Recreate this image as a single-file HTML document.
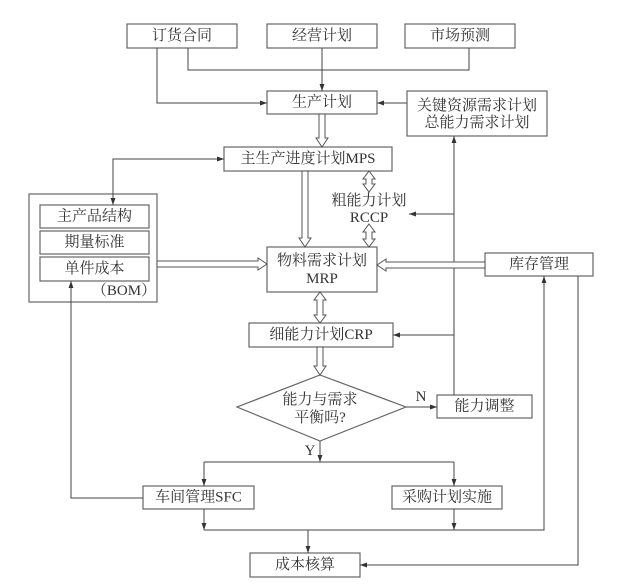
<!DOCTYPE html>
<html><head><meta charset="utf-8"><style>
html,body{margin:0;padding:0;background:#fff;}
svg{display:block;}
text{font-family:"Liberation Serif","Noto Serif CJK SC",serif;font-size:15px;fill:#333;text-anchor:middle;dominant-baseline:central;}
</style></head><body>
<svg width="630" height="585" viewBox="0 0 630 585" xmlns="http://www.w3.org/2000/svg">
<defs>
<marker id="a" viewBox="0 0 10 10" refX="10" refY="5" markerWidth="7" markerHeight="7" orient="auto-start-reverse" markerUnits="userSpaceOnUse"><path d="M0,1.5 L10,5 L0,8.5 z" fill="#333"/></marker>
</defs>
<g fill="#fff" stroke="#666" stroke-width="1.2">
<rect x="127" y="24" width="110" height="24"/>
<rect x="267" y="24" width="110" height="24"/>
<rect x="405" y="24" width="110" height="24"/>
<rect x="267" y="91" width="110" height="23"/>
<rect x="407" y="91" width="140" height="45"/>
<rect x="224" y="147" width="168" height="24"/>
<rect x="29" y="194" width="128" height="108"/>
<rect x="40" y="205" width="109" height="23"/>
<rect x="40" y="231" width="109" height="23"/>
<rect x="40" y="257" width="109" height="24"/>
<rect x="267" y="247" width="110" height="45"/>
<rect x="485" y="253" width="108" height="23"/>
<rect x="249" y="323" width="144" height="24"/>
<polygon points="320,375 406,407 320,441 237,407"/>
<rect x="437" y="395" width="95" height="23"/>
<rect x="143" y="486" width="111" height="23"/>
<rect x="392" y="486" width="110" height="23"/>
<rect x="250" y="553" width="110" height="24"/>
</g>
<g fill="none" stroke="#444" stroke-width="1">
<path d="M157,48 V103 H267" marker-end="url(#a)"/>
<path d="M188,48 V70 H469 V48"/>
<path d="M322,48 V91" marker-end="url(#a)"/>
<path d="M407,103 H377" marker-end="url(#a)"/>
<path d="M224,159 H113 V205" marker-start="url(#a)" marker-end="url(#a)"/>
<path d="M454,395 V136" marker-end="url(#a)"/>
<path d="M454,214 H409" marker-end="url(#a)"/>
<path d="M454,335 H393" marker-end="url(#a)"/>
<path d="M406,407 H437" marker-end="url(#a)"/>
<path d="M320,441 V462" marker-end="url(#a)"/>
<path d="M204,462 H454"/>
<path d="M204,462 V486" marker-end="url(#a)"/>
<path d="M454,462 V486" marker-end="url(#a)"/>
<path d="M143,498 H71 V281" marker-end="url(#a)"/>
<path d="M204,509 V530" marker-end="url(#a)"/>
<path d="M454,509 V530" marker-end="url(#a)"/>
<path d="M204,530 H544 V276" marker-end="url(#a)"/>
<path d="M308,530 V553" marker-end="url(#a)"/>
<path d="M578,276 V565 H360" marker-end="url(#a)"/>
</g>
<g fill="#fff" stroke="#555" stroke-width="1">
<!-- 生产计划 -> MPS -->
<polygon points="319,114 325,114 325,138 328,138 322,147 316,138 319,138"/>
<!-- MPS -> MRP -->
<polygon points="302,171 308,171 308,238 311,238 305,247 299,238 302,238"/>
<!-- RCCP double arrows -->
<polygon points="369,171 375,179 372,179 372,184 375,184 369,192 363,184 366,184 366,179 363,179"/>
<polygon points="369,224 375,232 372,232 372,239 375,239 369,247 363,239 366,239 366,232 363,232"/>
<!-- MRP <-> CRP -->
<polygon points="320,292 326,300 323,300 323,315 326,315 320,323 314,315 317,315 317,300 314,300"/>
<!-- CRP -> diamond -->
<polygon points="317,347 323,347 323,366 326,366 320,375 314,366 317,366"/>
<!-- BOM -> MRP -->
<polygon points="157,261 258,261 258,258 267,264 258,270 258,267 157,267"/>
<!-- 库存 -> MRP -->
<polygon points="485,262 386,262 386,259 377,265 386,271 386,268 485,268"/>
</g>
<text x="182" y="36">订货合同</text>
<text x="322" y="36">经营计划</text>
<text x="460" y="36">市场预测</text>
<text x="322" y="102.5">生产计划</text>
<text x="477" y="106">关键资源需求计划</text>
<text x="477" y="123">总能力需求计划</text>
<text x="308" y="159">主生产进度计划MPS</text>
<text x="369" y="201">粗能力计划</text>
<text x="369" y="218">RCCP</text>
<text x="94.5" y="216.5">主产品结构</text>
<text x="94.5" y="242.5">期量标准</text>
<text x="94.5" y="269">单件成本</text>
<text x="124" y="291">（BOM）</text>
<text x="322" y="261">物料需求计划</text>
<text x="322" y="279">MRP</text>
<text x="539" y="264.5">库存管理</text>
<text x="321" y="335">细能力计划CRP</text>
<text x="320" y="400">能力与需求</text>
<text x="320" y="418">平衡吗?</text>
<text x="421" y="397">N</text>
<text x="484.5" y="406.5">能力调整</text>
<text x="310" y="451">Y</text>
<text x="198.5" y="497.5">车间管理SFC</text>
<text x="447" y="497.5">采购计划实施</text>
<text x="305" y="565">成本核算</text>
</svg>
</body></html>
